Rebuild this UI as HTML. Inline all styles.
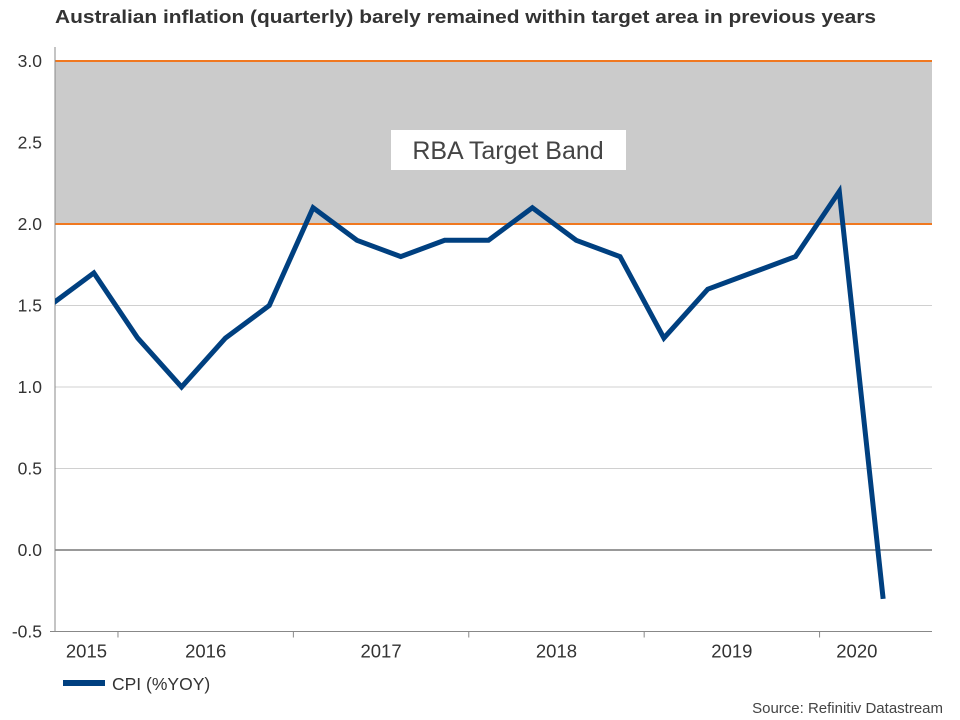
<!DOCTYPE html>
<html><head><meta charset="utf-8"><style>
body{margin:0;background:#fff;width:960px;height:720px;overflow:hidden;font-family:"Liberation Sans",Arial,sans-serif}
svg{display:block}
</style></head><body>
<svg width="960" height="720">
<text x="55" y="23" font-size="18" font-weight="bold" fill="#333" textLength="821" lengthAdjust="spacingAndGlyphs">Australian inflation (quarterly) barely remained within target area in previous years</text>
<g id="grid"></g>
<g id="band"></g>
<g id="axes"></g>
<g id="series"></g>
<g>
<rect x="63" y="680" width="42" height="6" fill="#004080"/>
<text x="112" y="690" font-size="17.5" fill="#333">CPI (%YOY)</text>
</g>
<text x="943" y="713" font-size="15" fill="#444" text-anchor="end">Source: Refinitiv Datastream</text>
</svg>
<script>
const values=[1.5,1.7,1.3,1.0,1.3,1.5,2.1,1.9,1.8,1.9,1.9,2.1,1.9,1.8,1.3,1.6,1.7,1.8,2.2,-0.3];
const yTicks=[-0.5,0.0,0.5,1.0,1.5,2.0,2.5,3.0];
const years=["2015","2016","2017","2018","2019","2020"];
const bandLow=2.0, bandHigh=3.0;
const NS="http://www.w3.org/2000/svg";
const L=55,R=932;
const y=v=>550-v*163;
const x=i=>50+43.85*i;
function mk(t,a,p){const e=document.createElementNS(NS,t);for(const k in a)e.setAttribute(k,a[k]);p.appendChild(e);return e;}
const grid=document.getElementById('grid'),band=document.getElementById('band'),axes=document.getElementById('axes'),series=document.getElementById('series');
yTicks.forEach(v=>{
 const l=mk('line',{x1:L,x2:R,y1:y(v),y2:y(v),stroke:v===0?'#333':'#d0d0d0','stroke-width':1},grid);
 
 
 const t=mk('text',{x:42,y:y(v)+6,'font-size':17.5,fill:'#333','text-anchor':'end'},axes);
 t.textContent=v.toFixed(1);
 
 
});
const b=mk('rect',{x:L,y:y(bandHigh),width:R-L,height:y(bandLow)-y(bandHigh),fill:'#cbcbcb'},band);


[bandLow,bandHigh].forEach(v=>{
 const l=mk('line',{x1:L,x2:R,y1:y(v),y2:y(v),stroke:'#f07820','stroke-width':2},band);
 
 
});
const lb=mk('rect',{x:391,y:130,width:235,height:40,fill:'#fff'},band);


const lt=mk('text',{x:508,y:159,'font-size':25,fill:'#444','text-anchor':'middle'},band);
lt.textContent='RBA Target Band';


const ya=mk('line',{x1:L,x2:L,y1:y(3.0)-14,y2:y(-0.5),stroke:'#888'},axes);


const xa=mk('line',{x1:50,x2:R,y1:y(-0.5),y2:y(-0.5),stroke:'#888'},axes);


const firstYearStart=-2.45;
years.forEach((yr,k)=>{
 const s=Math.max(firstYearStart+4*k,0), e=Math.min(firstYearStart+4*(k+1),values.length-1+0.25);
 const sx=Math.max(x(s),L), ex=Math.min(x(e),R);
 if(k>0){const tk=mk('line',{x1:x(firstYearStart+4*k),x2:x(firstYearStart+4*k),y1:y(-0.5),y2:y(-0.5)+6,stroke:'#888'},axes);
 
 }
 const t=mk('text',{x:(sx+ex)/2,y:y(-0.5)+26,'font-size':18.5,fill:'#333','text-anchor':'middle'},axes);
 t.textContent=yr;
 
 
});
mk('clipPath',{id:'cp'},series).appendChild(document.createElementNS(NS,'rect'));
const cr=document.querySelector('#cp rect');cr.setAttribute('x',L);cr.setAttribute('y',0);cr.setAttribute('width',R-L+20);cr.setAttribute('height',720);
const p=mk('polyline',{points:values.map((v,i)=>x(i)+','+y(v)).join(' '),fill:'none',stroke:'#004080','stroke-width':5,'stroke-linejoin':'miter','clip-path':'url(#cp)'},series);


</script>
</body></html>
